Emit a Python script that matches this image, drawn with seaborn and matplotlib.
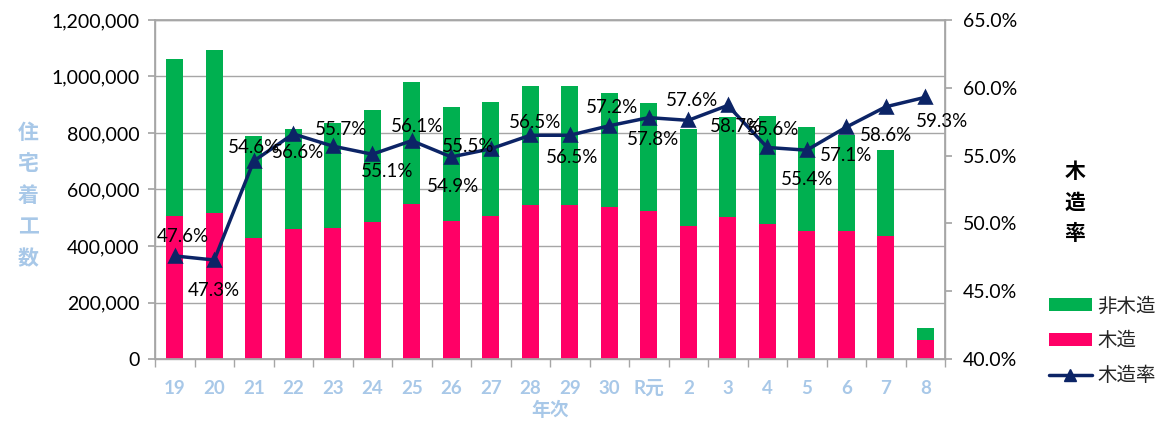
import numpy as np
import pandas as pd
import matplotlib
matplotlib.use("Agg")
import matplotlib.pyplot as plt
import seaborn as sns
from matplotlib.patches import Patch
from matplotlib.lines import Line2D
from matplotlib.ticker import FuncFormatter, FixedLocator

# ---- data ----
years = ["19", "20", "21", "22", "23", "24", "25", "26", "27", "28", "29", "30",
         "R元", "2", "3", "4", "5", "6", "7", "8"]
wood = [505000, 517000, 430000, 460000, 465000, 486000, 550000, 490000, 505000, 546000,
        545000, 539000, 523000, 470000, 503000, 478000, 454000, 452000, 434000, 66000]
nonwood = [556000, 576000, 358000, 353000, 369000, 397000, 430000, 402000, 404000, 421000,
           420000, 403000, 382000, 345000, 353000, 382000, 366000, 340000, 306000, 45000]
ratio = [47.6, 47.3, 54.6, 56.6, 55.7, 55.1, 56.1, 54.9, 55.5, 56.5,
         56.5, 57.2, 57.8, 57.6, 58.7, 55.6, 55.4, 57.1, 58.6, 59.3]
left_ticks = [0, 200000, 400000, 600000, 800000, 1000000, 1200000]
right_ticks = [40, 45, 50, 55, 60, 65]

# label offsets (pixels) for ratio labels
label_dx = [8, 0, 0, 5, 8, 15, 5, 2, -23, 5, 2, 3, 4, 4, 8, 6, 0, 0, 0, 17]
label_dy = [19, -30, 14, -19, 17, -17, 14, -30, 2, 13, -22, 18, -22, 20, -21, 18, -29, -28, -29, -24]

df = pd.DataFrame({"year": years, "wood": wood, "nonwood": nonwood, "ratio": ratio})
df["total"] = df["wood"] + df["nonwood"]

GREEN = "#00B050"
PINK = "#FF0066"
NAVY = "#0C2466"
LBLUE = "#A8C8E8"
GRID = "#A6A6A6"

sns.set_theme(style="white")
plt.rcParams["font.family"] = ["Lato", "Noto Sans CJK JP", "DejaVu Sans"]

fig = plt.figure(figsize=(11.6, 4.23), dpi=100)
ax = fig.add_axes([155 / 1160, 1 - 359 / 423, 790 / 1160, 339 / 423])

sns.barplot(data=df, x="year", y="total", color=GREEN, width=0.42, saturation=1,
            ax=ax, zorder=2, linewidth=0)
sns.barplot(data=df, x="year", y="wood", color=PINK, width=0.42, saturation=1,
            ax=ax, zorder=3, linewidth=0)

ax.set_ylim(0, 1200000)
ax.set_xlim(-0.5, len(years) - 0.5)
ax.yaxis.set_major_locator(FixedLocator(left_ticks))
ax.yaxis.set_major_formatter(FuncFormatter(lambda v, p: f"{int(v):,}"))
ax.set_axisbelow(True)
ax.yaxis.grid(True, color=GRID, lw=1)
ax.xaxis.grid(False)
for s in ["left", "bottom", "top", "right"]:
    ax.spines[s].set_color(GRID)
    ax.spines[s].set_linewidth(1)
ax.tick_params(axis="y", which="major", left=True, length=5, color=GRID,
               labelsize=14, labelcolor="black", pad=6)
ax.set_xticks(range(len(years)))
ax.set_xticklabels(years)
ax.tick_params(axis="x", which="major", bottom=False, labelsize=13.5,
               labelcolor=LBLUE, pad=9)
for t in ax.get_xticklabels():
    t.set_fontweight("bold")
ax.set_xticks(np.arange(-0.5, len(years), 1), minor=True)
ax.tick_params(axis="x", which="minor", bottom=True, length=6, color=GRID)
ax.set_xlabel("")
ax.set_ylabel("")

ax2 = ax.twinx()
sns.pointplot(data=df, x="year", y="ratio", color=NAVY, markers="^",
              markersize=9, linewidth=2.5, ax=ax2, errorbar=None)
ax2.set_xlim(-0.5, len(years) - 0.5)
ax2.set_ylim(40, 65)
ax2.yaxis.set_major_locator(FixedLocator(right_ticks))
ax2.yaxis.set_major_formatter(FuncFormatter(lambda v, p: f"{v:.1f}%"))
ax2.tick_params(axis="y", right=True, length=5, color=GRID, labelsize=14,
                labelcolor="black", pad=8)
ax2.set_ylabel("")
ax2.grid(False)
for s in ["left", "bottom", "top", "right"]:
    ax2.spines[s].set_color(GRID)

for i, r in enumerate(ratio):
    ax2.annotate(f"{r:.1f}%", (i, r), xytext=(label_dx[i], label_dy[i]),
                 textcoords="offset pixels", ha="center", va="center",
                 fontsize=13.5, color="black", zorder=5)

# axis titles
fig.text(550 / 1160, 1 - 410 / 423, "年次", ha="center", va="center",
         fontsize=13.5, color=LBLUE, fontweight="bold")
fig.text(28 / 1160, 1 - 196 / 423, "\n".join("住宅着工数"), ha="center", va="center",
         fontsize=15, color=LBLUE, fontweight="bold", linespacing=1.72)
fig.text(1075 / 1160, 1 - 203 / 423, "\n".join("木造率"), ha="center", va="center",
         fontsize=15, color="black", fontweight="bold", linespacing=1.7)

handles = [Patch(facecolor=GREEN, edgecolor="none"),
           Patch(facecolor=PINK, edgecolor="none"),
           Line2D([0], [0], color=NAVY, lw=2.5, marker="^", markersize=9)]
labels = ["非木造", "木造", "木造率"]
fig.legend(handles, labels, loc="upper left", bbox_to_anchor=(1049 / 1160, 1 - 296 / 423),
           frameon=False, fontsize=14, handlelength=2.2, handleheight=0.6,
           labelspacing=0.85, handletextpad=0.3, borderaxespad=0, borderpad=0)

fig.savefig("out.png", dpi=100)
